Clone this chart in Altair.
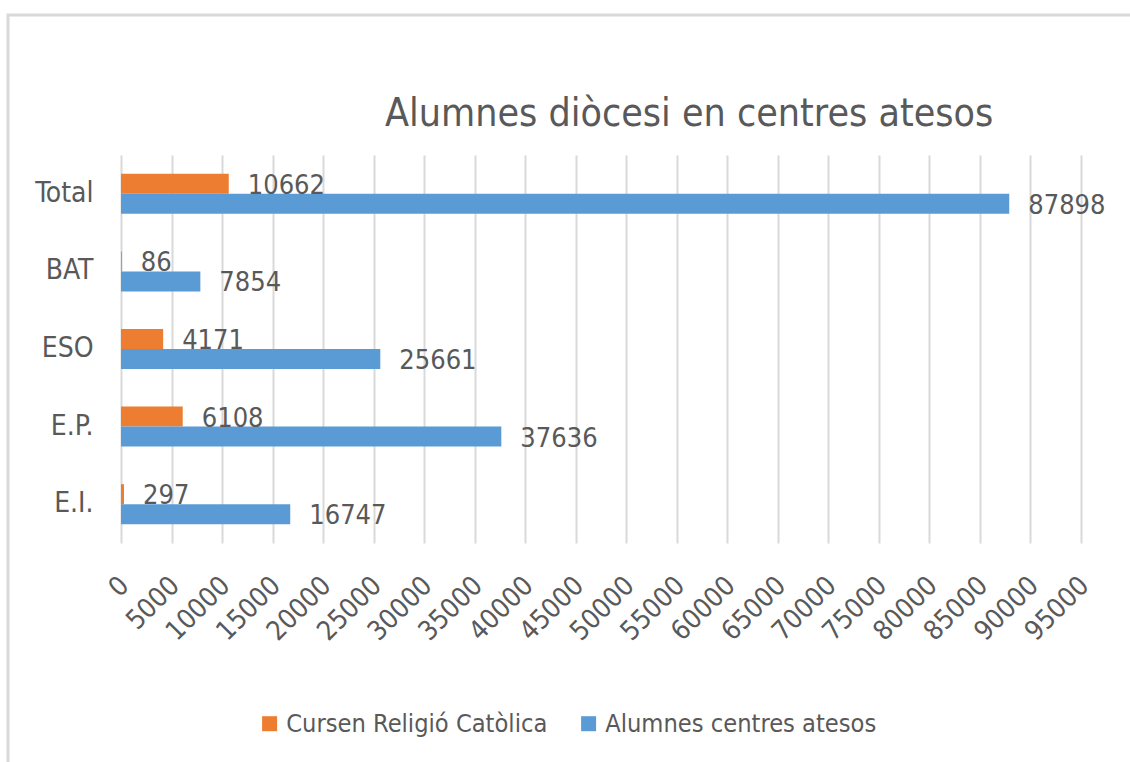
import altair as alt
import pandas as pd

categories = ["Total", "BAT", "ESO", "E.P.", "E.I."]
series_names = ["Cursen Religió Catòlica", "Alumnes centres atesos"]
religio = [10662, 86, 4171, 6108, 297]
alumnes = [87898, 7854, 25661, 37636, 16747]
x_ticks = list(range(0, 95001, 5000))
title_text = "Alumnes diòcesi en centres atesos"
colors = ["#ED7D31", "#5B9BD5"]

rows = []
for c, r, a in zip(categories, religio, alumnes):
    rows.append({"cat": c, "serie": series_names[0], "val": r})
    rows.append({"cat": c, "serie": series_names[1], "val": a})
df = pd.DataFrame(rows)

FONT = "Liberation Sans Narrow, DejaVu Sans Condensed, sans-serif"
TXT = "#595959"

y_enc = alt.Y(
    "cat:N", sort=categories,
    scale=alt.Scale(paddingInner=0.4845, paddingOuter=0.2423),
    axis=alt.Axis(title=None, domain=False, ticks=False, labelPadding=28,
                  labelFontSize=28, labelColor=TXT, labelFont=FONT),
)
yoff = alt.YOffset("serie:N", sort=series_names,
                   scale=alt.Scale(paddingInner=0, paddingOuter=0))
x_enc = alt.X(
    "val:Q",
    scale=alt.Scale(domain=[0, 95000], nice=False),
    axis=alt.Axis(values=x_ticks, title=None, domain=False, ticks=False,
                  labelAngle=-45, labelAlign="right", labelBaseline="top",
                  labelFontSize=27, labelColor=TXT, labelFont=FONT,
                  labelPadding=29, labelOffset=-6,
                  gridColor="#d9d9d9", gridWidth=2,
                  labelOverlap=False, labelFlush=False, format="d"),
)
color = alt.Color(
    "serie:N", sort=series_names,
    scale=alt.Scale(domain=series_names, range=colors),
    legend=alt.Legend(title=None, orient="none", legendX=136, legendY=556,
                      direction="horizontal", symbolType="square",
                      symbolSize=225, symbolStrokeWidth=0, labelFontSize=25.2,
                      labelColor=TXT, labelFont=FONT, labelOffset=4,
                      labelLimit=0, columnPadding=28, symbolOpacity=1),
)

frame = alt.Chart(pd.DataFrame({"k": [0]})).mark_rect(
    fill="transparent", stroke="#d9d9d9", strokeWidth=3
).encode(x=alt.value(-113), x2=alt.value(1200), y=alt.value(-140), y2=alt.value(800))

title = alt.Chart(pd.DataFrame({"t": [title_text]})).mark_text(
    align="left", baseline="alphabetic", fontSize=39, font=FONT, color=TXT
).encode(x=alt.value(264), y=alt.value(-29), text="t:N")

bars = alt.Chart(df).mark_bar().encode(x=x_enc, y=y_enc, yOffset=yoff, color=color)

labels = alt.Chart(df).mark_text(
    align="left", baseline="middle", dx=19, dy=2, fontSize=27, font=FONT, color=TXT
).encode(
    x="val:Q",
    y=alt.Y("cat:N", sort=categories),
    yOffset=alt.YOffset("serie:N", sort=series_names),
    text=alt.Text("val:Q", format="d"),
)

chart = alt.layer(frame, title, bars, labels).properties(
    width=960, height=388,
    padding={"left": 121, "top": 155, "right": 49, "bottom": 219},
    autosize=alt.AutoSizeParams(type="none"),
    background="white",
).configure_view(stroke=None)

chart.save("out.html", embed_options={"renderer": "svg", "actions": False})
